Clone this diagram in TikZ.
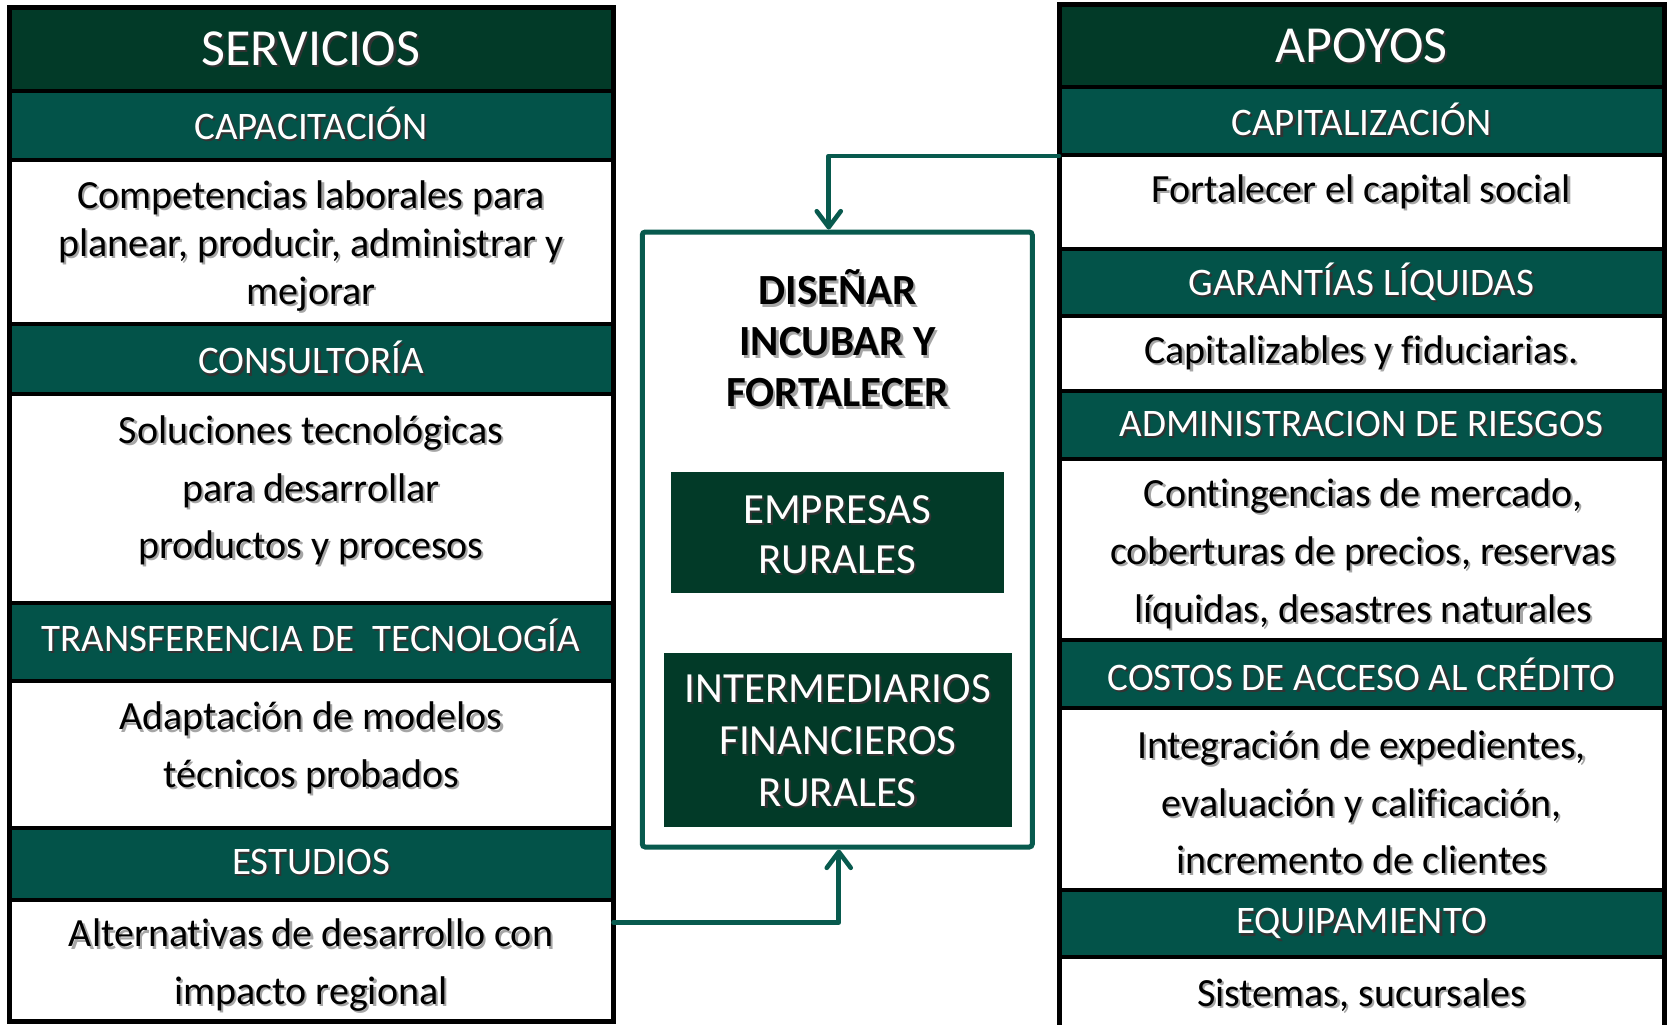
\documentclass[tikz,border=0pt]{standalone}
\usepackage{fontspec}
\setmainfont{Carlito}[Ligatures=NoCommon]
\usetikzlibrary{arrows.meta,calc}
\definecolor{darkg}{RGB}{2,58,40}
\definecolor{tealg}{RGB}{3,83,73}
\definecolor{conng}{RGB}{8,90,78}
\newcommand\ws[1]{\leavevmode\rlap{\kern1.1pt\raisebox{-1.1pt}{\textcolor{black!80}{#1}}}#1}
\newcommand\bs[1]{\leavevmode\rlap{\kern1.1pt\raisebox{-1.1pt}{\textcolor{black!35}{#1}}}#1}
\begin{document}
\begin{tikzpicture}[x=0.5pt,y=-0.5pt,
  head/.style={inner sep=0pt,text=white,font=\fontsize{26}{30}\selectfont},
  bandlbl/.style={inner sep=0pt,text=white,font=\fontsize{19.5}{24}\selectfont},
  body/.style={inner sep=0pt,text=black,align=center,font=\fontsize{20}{#1}\selectfont},
  body/.default=28.75,
  sepline/.style={line width=2pt,black},
  frame/.style={line width=2.5pt,black},
  conn/.style={line width=2.3pt,conng,line cap=round,line join=round},
  tipA/.style={-{Straight Barb[round,length=8pt,width=12pt]}},
  darkbox/.style={fill=darkg,inner sep=0pt,text=white,align=center,font=\fontsize{21.5}{#1}\selectfont},
  darkbox/.default=25
]
\useasboundingbox (0,0) rectangle (1669,1024);
\fill[white] (0,0) rectangle (1669,1024);

% ---------- left table ----------
\fill[darkg] (9,7) rectangle (613.5,90.5);
\foreach \a/\b in {90.5/160,323.6/394,602.5/681,828/899.5}
  \fill[tealg] (9,\a) rectangle (613.5,\b);
\foreach \yy in {90.5,160,323.6,394,602.5,681,828,899.5}
  \draw[sepline] (9,\yy) -- (613.5,\yy);
\draw[frame] (9,7) rectangle (613.5,1021);

\node[head] (servicios) at (311,50) {\ws{SERVICIOS}};
\node[bandlbl] (capacit) at (311,124.6) {\ws{CAPACITACIÓN}};
\node[body=24] (compet) at (311,247) {\bs{Competencias laborales para}\\\bs{planear, producir, administrar y}\\\bs{mejorar}};
\node[bandlbl] (consult) at (311,358.8) {\ws{CONSULTORÍA}};
\node[body] (soluc) at (311,491.6) {\bs{Soluciones tecnológicas}\\\bs{para desarrollar}\\\bs{productos y procesos}};
\node[bandlbl] (transf) at (311,636.6) {\ws{TRANSFERENCIA DE\ \ TECNOLOGÍA}};
\node[body] (adapt) at (311,749) {\bs{Adaptación de modelos}\\\bs{técnicos probados}};
\node[bandlbl] (estud) at (311,863.3) {\ws{ESTUDIOS}};
\node[body] (altern) at (311,966.3) {\bs{Alternativas de desarrollo con}\\\bs{impacto regional}};

% ---------- right table ----------
\fill[darkg] (1059,4.5) rectangle (1664,87.3);
\foreach \a/\b in {87.3/155.4,249/316,390.6/458.8,639.7/707.8,889.8/957}
  \fill[tealg] (1059,\a) rectangle (1664,\b);
\foreach \yy in {87.3,155.4,249,316,390.6,458.8,639.7,707.8,889.8,957}
  \draw[sepline] (1059,\yy) -- (1664,\yy);
\draw[frame] (1059,1035) -- (1059,4.5) -- (1664,4.5) -- (1664,1035);

\node[head] (apoyos) at (1361.5,46.8) {\ws{APOYOS}};
\node[bandlbl] (capital) at (1361.5,120) {\ws{CAPITALIZACIÓN}};
\node[body] (fortal) at (1361.5,192.5) {\bs{Fortalecer el capital social}};
\node[bandlbl] (garant) at (1361.5,283) {\ws{GARANTÍAS LÍQUIDAS}};
\node[body] (capitz) at (1361.5,354) {\bs{Capitalizables y fiduciarias.}};
\node[bandlbl] (admin) at (1361.5,424.8) {\ws{ADMINISTRACION DE RIESGOS}};
\node[body=29] (conting) at (1363,554.5) {\bs{Contingencias de mercado,}\\\bs{coberturas de precios, reservas}\\\bs{líquidas, desastres naturales}};
\node[bandlbl] (costos) at (1361.5,675) {\ws{COSTOS DE ACCESO AL CRÉDITO}};
\node[body] (integr) at (1361.5,803.5) {\bs{Integración de expedientes,}\\\bs{evaluación y calificación,}\\\bs{incremento de clientes}};
\node[bandlbl] (equip) at (1361.5,925) {\ws{EQUIPAMIENTO}};
\node[body] (sistem) at (1361.5,996) {\bs{Sistemas, sucursales}};

% ---------- centre ----------
\node[draw=conng,line width=2.5pt,rounded corners=1.5pt,minimum width=195pt,minimum height=307.5pt,inner sep=0pt] (box) at (837.25,539.5) {};
\node[inner sep=0pt,align=center,font=\bfseries\fontsize{21.5}{25.5}\selectfont] (disenar) at (837.7,339.6) {\bs{DISEÑAR}\\\bs{INCUBAR Y}\\\bs{FORTALECER}};
\node[darkbox,minimum width=166.5pt,minimum height=60.75pt] (empresas) at (837.15,532.25) {\rule{0pt}{17pt}\ws{EMPRESAS}\\\ws{RURALES}};
\node[darkbox=26,minimum width=173.75pt,minimum height=87pt] (interm) at (837.75,739.7) {\rule{0pt}{16pt}\ws{INTERMEDIARIOS}\\\ws{FINANCIEROS}\\\ws{RURALES}};

% ---------- connectors ----------
\coordinate (rin) at (1059,156);
\coordinate (lout) at (613.5,922.5);
\draw[conn,tipA] (rin) -| ($(box.north)+(-8.5,0)$);
\draw[conn,tipA] (lout) -| ($(box.south)+(1.5,0)$);
\end{tikzpicture}
\end{document}
